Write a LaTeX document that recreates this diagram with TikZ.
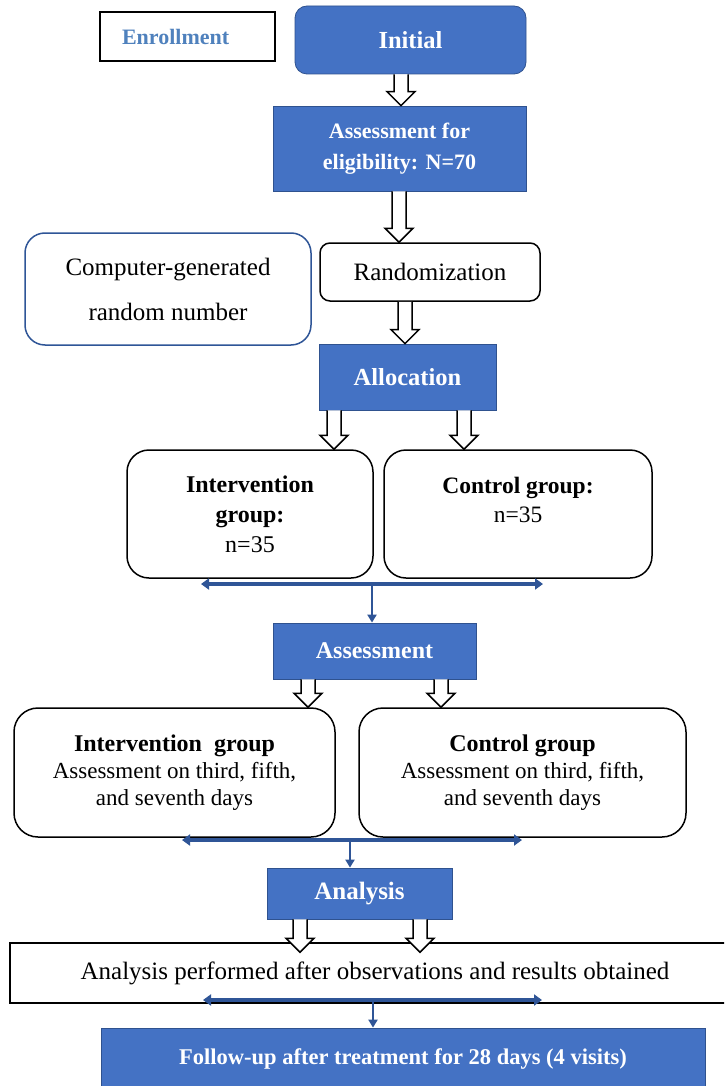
\documentclass[tikz,border=0pt]{standalone}
\usepackage{fontspec}
\setmainfont{Liberation Serif}
\usetikzlibrary{arrows.meta,calc}
\definecolor{wblue}{HTML}{4472C4}
\definecolor{wblueedge}{HTML}{2F528F}
\definecolor{conn}{HTML}{2F5597}
\definecolor{enrl}{HTML}{4F81BD}
\newcommand\fs[2]{\fontsize{#1}{#2}\selectfont}
% hollow block arrow: #1 x (pt), #2 upper node, #3 lower node, #4 overshoot (pt)
\newcommand\harrow[4]{%
  \fill[white] let \p1=(#2.south), \p2=(#3.north) in
    ({#1pt-7pt},{\y1}) -- ({#1pt-7pt},{\y2-#4pt+14pt}) -- ({#1pt-14pt},{\y2-#4pt+14pt})
    -- ({#1pt},{\y2-#4pt}) -- ({#1pt+14pt},{\y2-#4pt+14pt}) -- ({#1pt+7pt},{\y2-#4pt+14pt})
    -- ({#1pt+7pt},{\y1}) -- cycle;
  \draw[hollowarr] let \p1=(#2.south), \p2=(#3.north) in
    ({#1pt-7pt},{\y1}) -- ({#1pt-7pt},{\y2-#4pt+14pt}) -- ({#1pt-14pt},{\y2-#4pt+14pt})
    -- ({#1pt},{\y2-#4pt}) -- ({#1pt+14pt},{\y2-#4pt+14pt}) -- ({#1pt+7pt},{\y2-#4pt+14pt})
    -- ({#1pt+7pt},{\y1});
}
\tikzset{
  bluebox/.style={fill=wblue, draw=wblueedge, line width=0.8pt, text=white,
    font=\bfseries, align=center, inner sep=0pt},
  whitebox/.style={draw=black, line width=1.5pt, fill=white, align=center, inner sep=0pt},
  hollowarr/.style={draw=black, line width=1.5pt, line join=miter},
  bconn/.style={draw=conn, line width=3.5pt, {Triangle[length=8pt,width=11pt]}-{Triangle[length=8pt,width=11pt]}},
  bconnv/.style={draw=conn, line width=2.5pt, -{Triangle[length=8pt,width=9pt]}},
}
\begin{document}
\begin{tikzpicture}[x=1pt,y=-1pt]
\useasboundingbox (0,0) rectangle (724,1086);
\clip (0,0) rectangle (724,1086);
\fill[white] (0,0) rectangle (724,1086);

% enrollment
\node[draw=black, line width=2pt, minimum width=175pt, minimum height=49pt,
  text width=131pt, align=left, inner xsep=22pt, text=enrl, font=\bfseries\fs{22}{26}]
  (enroll) at (187.5,36.5) {Enrollment};

\node[bluebox, rounded corners=12pt, minimum width=231pt, minimum height=68pt,
  font=\bfseries\fs{24.5}{28}] (init) at (410.5,40) {Initial};

\node[bluebox, minimum width=253pt, minimum height=85pt,
  font=\bfseries\fs{22}{31}] (elig) at (399.5,148.5) {Assessment for\\eligibility: N=70};

\node[whitebox, draw=conn, rounded corners=20pt, minimum width=286pt, minimum height=112pt,
  font=\fs{25}{45}] (cgen) at (168,289) {Computer-generated\\random number};

\node[whitebox, rounded corners=10pt, minimum width=220pt, minimum height=58pt,
  font=\fs{25}{30}] (rand) at (430,272) {Randomization};

\node[bluebox, minimum width=177pt, minimum height=66pt,
  font=\bfseries\fs{24.5}{28}] (alloc) at (407.5,377) {Allocation};

\node[whitebox, rounded corners=22pt, minimum width=246pt, minimum height=128pt,
  font=\fs{24}{30}] (ig1) at (250,514) {\textbf{Intervention}\\\textbf{group:}\\n=35};

\node[whitebox, rounded corners=22pt, minimum width=268pt, minimum height=128pt,
  font=\fs{23.5}{29}] (cg1) at (518,514) {\textbf{Control group:}\\n=35\\\mbox{}};

\node[bluebox, minimum width=203pt, minimum height=56pt,
  font=\bfseries\fs{24}{28}] (assess) at (374.5,651) {Assessment};

\node[whitebox, rounded corners=24pt, minimum width=321pt, minimum height=129pt,
  font=\fs{23}{27}] (ig2) at (174.5,772.5)
  {{\fs{24}{28}\bfseries Intervention\enspace group}\\Assessment on third, fifth,\\and seventh days};

\node[whitebox, rounded corners=24pt, minimum width=327pt, minimum height=129pt,
  font=\fs{23}{27}] (cg2) at (522.5,772.5)
  {{\fs{24}{28}\bfseries Control group}\\Assessment on third, fifth,\\and seventh days};

\node[bluebox, minimum width=185pt, minimum height=51pt,
  font=\bfseries\fs{25}{28}] (analysis) at (359.5,893.5) {Analysis};

\node[whitebox, minimum width=730pt, minimum height=60pt, font=\fs{25}{30}]
  (perf) at (375,973) {\raisebox{-8pt}{Analysis performed after observations and results obtained}};

\node[bluebox, minimum width=604pt, minimum height=62pt,
  font=\bfseries\fs{22.5}{27}] (follow) at (403,1059) {\raisebox{2pt}{Follow-up after treatment for 28 days (4 visits)}};

% hollow arrows
\harrow{401}{init}{elig}{0}
\harrow{399}{elig}{rand}{0}
\harrow{405}{rand}{alloc}{0}
\harrow{334}{alloc}{ig1}{0}
\harrow{464}{alloc}{cg1}{0}
\harrow{308}{assess}{ig2}{0}
\harrow{441}{assess}{cg2}{0}
\harrow{300}{analysis}{perf}{10}
\harrow{420}{analysis}{perf}{10}

% blue connectors
\coordinate (h1l) at (201,584);
\coordinate (h1r) at (543,584);
\coordinate (h1m) at (372,584);
\draw[bconn] (h1l) -- (h1r);
\draw[bconnv] (h1m) -- (h1m |- assess.north);

\coordinate (h2l) at (182,840);
\coordinate (h2r) at (522,840);
\coordinate (h2m) at (350,840);
\draw[bconn] (h2l) -- (h2r);
\draw[bconnv] (h2m) -- (h2m |- analysis.north);

\coordinate (h3l) at (203,1000);
\coordinate (h3r) at (542,1000);
\coordinate (h3m) at (373,1000);
\draw[bconn] (h3l) -- (h3r);
\draw[bconnv] (h3m) -- (h3m |- follow.north);
\end{tikzpicture}
\end{document}
